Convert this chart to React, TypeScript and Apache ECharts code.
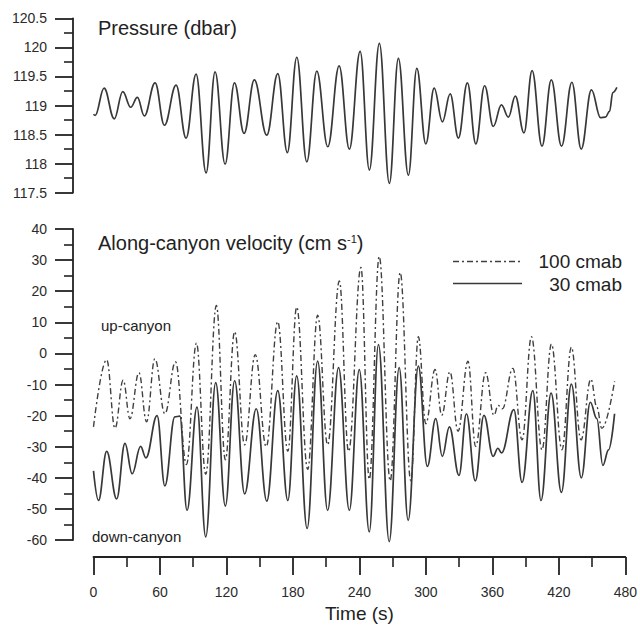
import React, { useEffect, useRef } from "react";
import * as echarts from "echarts";

// ---- Data ----
const pressureTime = [0, 1.5, 9.5, 18.7, 26.3, 33.5, 39.5, 45.7, 55.4, 63.8, 74.3, 83.3, 92.3, 101.3, 109.4, 118.4, 126.8, 135.5, 144.7, 155.9, 165.8, 174.4, 182.9, 191.9, 200.9, 210.8, 221, 230.2, 239.9, 248.2, 257.2, 266.2, 274.3, 283.3, 290.9, 299, 306.5, 313.9, 320.9, 328.3, 336.4, 344, 351.9, 359.7, 367, 373.3, 379.5, 387.3, 394.6, 403.5, 411.9, 421.1, 430.4, 438.8, 448, 456.2, 460.6, 464.3, 467.2, 470.9];
const pressureValue = [118.85, 118.83, 119.3, 118.77, 119.24, 118.97, 119.14, 118.82, 119.39, 118.66, 119.35, 118.44, 119.54, 117.84, 119.58, 117.99, 119.39, 118.52, 119.44, 118.49, 119.55, 118.19, 119.83, 118.03, 119.59, 118.29, 119.68, 118.25, 119.93, 117.89, 120.07, 117.66, 119.81, 117.8, 119.64, 118.34, 119.3, 118.72, 119.2, 118.44, 119.39, 118.34, 119.34, 118.64, 119.01, 118.8, 119.16, 118.53, 119.6, 118.3, 119.44, 118.3, 119.4, 118.25, 119.27, 118.79, 118.8, 118.9, 119.22, 119.31];

const time100 = [0, 11.9, 19.4, 26.8, 32.9, 41, 47.9, 55.4, 64.4, 74, 83.9, 92.9, 101.3, 110.9, 119, 127.4, 136.4, 146, 155.9, 166.3, 175.4, 183.4, 193.3, 202.3, 211.3, 221.9, 230.2, 241.4, 248.9, 257.9, 267.8, 276.8, 286.4, 293.2, 299.9, 308.3, 314.3, 321.7, 329, 338, 344.9, 353.9, 361.4, 365.2, 369, 378.5, 386.8, 395.3, 404.8, 413.3, 422.8, 431.3, 440, 448.9, 454.3, 458.8, 470.3];
const vel100 = [-23.6, -2, -24.1, -8.6, -21, -6.2, -22, -1.7, -19.4, -2.7, -35.7, 3.3, -38.9, 15.4, -34.2, 7, -29.4, -0.4, -30, 10.2, -31.5, 14.9, -37.3, 12.3, -29.4, 23.3, -31.5, 27.6, -40.5, 31.2, -41, 26, -41, 5.4, -22.6, -5.2, -19.9, -5.9, -25, -2.5, -29.9, -6.2, -19.9, -16.7, -17.8, -4.8, -27.8, 5.4, -31, 3, -31, 2, -27.8, -8.3, -17.3, -24.1, -9];

const time30 = [0, 4.5, 11.9, 20.9, 28.4, 34.9, 42.5, 47.3, 57.4, 64.4, 73.4, 77.9, 84.4, 93.4, 101.3, 110.3, 119, 127.4, 136.4, 146.9, 156.4, 166.3, 175.4, 183.4, 192.8, 202.3, 211.3, 221.2, 230.9, 239.9, 248.9, 257.2, 266.9, 275.9, 284, 293.2, 301.3, 308.9, 314.8, 321.2, 329.9, 336.6, 344.6, 352.4, 360.7, 365, 368.3, 379.4, 386.8, 396.5, 403.9, 413, 422.3, 431.3, 440.3, 448.4, 454.3, 459.7, 464.9, 470.3];
const vel30 = [-37.8, -47.3, -31.5, -46.8, -28.9, -38.7, -29.9, -33.6, -20, -42.6, -20.4, -20.2, -50.5, -17.3, -59, -9.4, -49.1, -8.8, -45.2, -17.8, -47.5, -12, -47.3, -7.2, -56.3, -2.5, -50.5, -4.6, -50.5, -5.2, -57.4, 2.8, -60.5, -4.6, -53.7, -4.1, -36.3, -21, -33.1, -23.6, -39.2, -19.4, -41, -19.9, -33.1, -30.5, -32, -18.1, -41.5, -12, -47.3, -12.8, -44.7, -9.9, -40, -15.7, -21, -36, -31, -19.4];

const seriesNames = ["100 cmab", "30 cmab"];
const xTickInterval = 60;

const FONT = "'Liberation Sans', Arial, Helvetica, sans-serif";
const INK = "#222";
const LINE = "#383838";

function pairs(t: number[], v: number[]) {
  return t.map((x, i) => [x, v[i]]);
}

const axisCommon = {
  type: "value" as const,
  axisLine: { show: true, onZero: false, lineStyle: { color: INK, width: 1.8 } },
  axisTick: { show: true, length: 18, lineStyle: { color: INK, width: 1.8 } },
  minorTick: { show: true, splitNumber: 2, length: 9, lineStyle: { color: INK, width: 1.6 } },
  splitLine: { show: false },
  minorSplitLine: { show: false },
  axisLabel: { color: "#2a2a2a", fontSize: 14, fontFamily: FONT },
};

export default function App() {
  const ref = useRef<HTMLDivElement>(null);
  useEffect(() => {
    if (!ref.current) return;
    const chart = echarts.init(ref.current, null, { renderer: "svg" });
    const option: any = {
      animation: false,
      backgroundColor: "#fff",
      grid: [
        { left: 93.5, right: 13, top: 18.3, height: 174.4 },
        { left: 93.5, right: 13, top: 229, height: 315.7 },
      ],
      xAxis: [
        { type: "value", gridIndex: 0, min: 0, max: 480, show: false },
        {
          ...axisCommon,
          gridIndex: 1,
          min: 0,
          max: 480,
          interval: xTickInterval,
          offset: 17,
          axisLabel: { ...axisCommon.axisLabel, margin: 28 },
          minorTick: { ...axisCommon.minorTick, length: 10 },
          name: "Time (s)",
          nameLocation: "middle",
          nameGap: 47,
          nameTextStyle: { color: INK, fontSize: 19, fontFamily: FONT },
        },
      ],
      yAxis: [
        {
          ...axisCommon,
          gridIndex: 0,
          min: 117.5,
          max: 120.5,
          interval: 0.5,
          offset: 20.5,
          axisLabel: { ...axisCommon.axisLabel, margin: 26 },
        },
        {
          ...axisCommon,
          gridIndex: 1,
          min: -60,
          max: 40,
          interval: 10,
          offset: 20.5,
          axisLabel: { ...axisCommon.axisLabel, margin: 26 },
        },
      ],
      series: [
        {
          name: "Pressure",
          type: "line",
          xAxisIndex: 0,
          yAxisIndex: 0,
          data: pairs(pressureTime, pressureValue),
          smooth: 0.4,
          smoothMonotone: "x",
          showSymbol: false,
          symbol: "none",
          clip: false,
          lineStyle: { color: LINE, width: 1.7 },
        },
        {
          name: seriesNames[1],
          type: "line",
          xAxisIndex: 1,
          yAxisIndex: 1,
          data: pairs(time30, vel30),
          smooth: 0.4,
          smoothMonotone: "x",
          symbol: "none",
          clip: false,
          lineStyle: { color: LINE, width: 1.7 },
        },
        {
          name: seriesNames[0],
          type: "line",
          xAxisIndex: 1,
          yAxisIndex: 1,
          data: pairs(time100, vel100),
          smooth: 0.4,
          smoothMonotone: "x",
          symbol: "none",
          clip: false,
          lineStyle: { color: "#404040", width: 1.4, type: [6, 3, 2, 3] },
        },
      ],
      graphic: [
        {
          type: "text",
          x: 98,
          y: 28,
          style: { text: "Pressure (dbar)", font: `20px ${FONT}`, fill: INK, verticalAlign: "middle" },
        },
        {
          type: "text",
          x: 98,
          y: 243,
          style: {
            text: "{m|Along-canyon velocity (cm s}{s|-1}{m|)}",
            verticalAlign: "middle",
            rich: {
              m: { fontSize: 20, fontFamily: FONT, fill: INK, color: INK },
              s: { fontSize: 11, fontFamily: FONT, fill: INK, color: INK, verticalAlign: "top" },
            },
          },
        },
        {
          type: "text",
          x: 101,
          y: 325,
          style: { text: "up-canyon", font: `15px ${FONT}`, fill: INK, verticalAlign: "middle" },
        },
        {
          type: "text",
          x: 92,
          y: 536,
          style: { text: "down-canyon", font: `15px ${FONT}`, fill: INK, verticalAlign: "middle" },
        },
        {
          type: "line",
          shape: { x1: 453, y1: 261.5, x2: 522, y2: 261.5 },
          style: { stroke: "#404040", lineWidth: 1.4, lineDash: [6, 3, 2, 3] },
        },
        {
          type: "line",
          shape: { x1: 453, y1: 283.5, x2: 522, y2: 283.5 },
          style: { stroke: LINE, lineWidth: 1.7 },
        },
        {
          type: "text",
          x: 622,
          y: 261,
          style: { text: seriesNames[0], font: `19px ${FONT}`, fill: INK, align: "right", verticalAlign: "middle" },
        },
        {
          type: "text",
          x: 622,
          y: 284,
          style: { text: seriesNames[1], font: `19px ${FONT}`, fill: INK, align: "right", verticalAlign: "middle" },
        },
      ],
    };
    chart.setOption(option);
    return () => chart.dispose();
  }, []);
  return (
    <div
      ref={ref}
      style={{ position: "fixed", left: 0, top: 0, width: 640, height: 628, background: "#fff" }}
    />
  );
}
